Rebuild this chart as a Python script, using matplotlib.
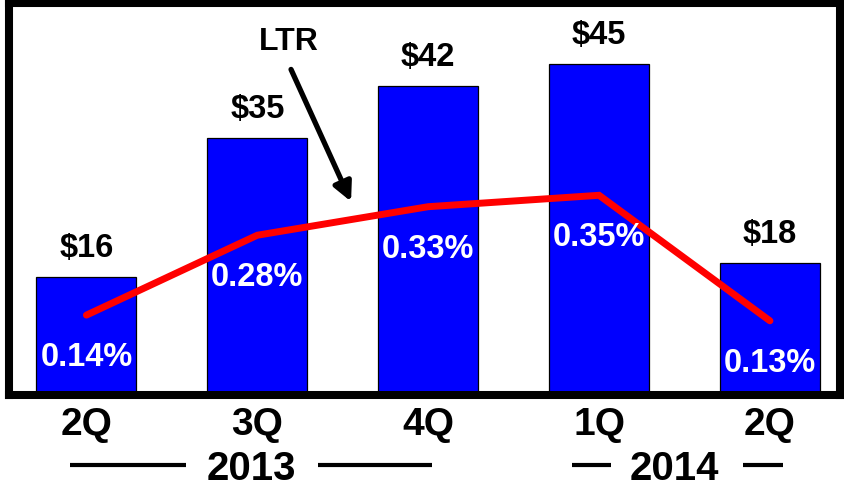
import numpy as np
import matplotlib
matplotlib.use("Agg")
import matplotlib.pyplot as plt

plt.rcParams["font.family"] = ["Liberation Sans", "DejaVu Sans"]
plt.rcParams["font.weight"] = "bold"

# ======================================================
# DATA
# ======================================================

quarters = ["2Q", "3Q", "4Q", "1Q", "2Q"]
losses = [16, 35, 42, 45, 18]            # $ bars
ltr = [0.14, 0.28, 0.33, 0.35, 0.13]     # % line
years = ["2013", "2014"]

x = np.arange(len(quarters))

# ======================================================
# FIGURE
# ======================================================

fig = plt.figure(figsize=(8.44, 4.89), dpi=100)
ax = fig.add_axes([9 / 844, 93 / 489, 831 / 844, 392 / 489])

ax.bar(x, losses, width=0.585, color="#0000ff",
       edgecolor="black", linewidth=0.9, zorder=2)

for xi, v in zip(x, losses):
    ax.annotate(f"${v}", (xi, v), xytext=(0, 15),
                textcoords="offset points", ha="center",
                va="baseline", fontsize=23.5, fontweight="bold")

ax.set_xlim(-0.453, 4.41)
ax.set_ylim(0, 53.3)
ax.set_yticks([])
ax.set_xticks(x)
ax.set_xticklabels(quarters, fontsize=28, fontweight="bold")
ax.tick_params(axis="x", length=0, pad=8)

for s in ax.spines.values():
    s.set_linewidth(5.8)
    s.set_color("black")

# LTR line on secondary scale
ax2 = ax.twinx()
ax2.plot(x, ltr, color="#ff0000", linewidth=5,
         solid_capstyle="round", solid_joinstyle="miter", zorder=3)
ax2.set_ylim(0, 0.687)
ax2.set_yticks([])
for s in ax2.spines.values():
    s.set_visible(False)

for xi, v in zip(x, ltr):
    ax2.annotate(f"{v:.2f}%", (xi, v), xytext=(0, -36),
                 textcoords="offset points", ha="center",
                 va="baseline", fontsize=23.5, fontweight="bold",
                 color="white", zorder=4)

# LTR callout
ax2.annotate("", xy=(0.413, 0.487), xytext=(0.338, 0.837),
             xycoords="axes fraction", textcoords="axes fraction",
             arrowprops=dict(arrowstyle="-|>", color="black",
                             lw=3.8, mutation_scale=28))
ax2.text(0.337, 0.903, "LTR", transform=ax2.transAxes,
         ha="center", va="center", fontsize=23, fontweight="bold")

# year labels under the quarters
trans = ax.get_xaxis_transform()
year_pos = [0.968, 3.44]
for xp, yr in zip(year_pos, years):
    ax.text(xp, -0.186, yr, transform=trans, ha="center", va="center",
            fontsize=29, fontweight="bold", clip_on=False)

year_lines = [(-0.097, 0.582), (1.354, 2.021), (2.84, 3.07), (3.84, 4.075)]
for x0, x1 in year_lines:
    ax.plot([x0, x1], [-0.178, -0.178], transform=trans, color="black",
            linewidth=3, clip_on=False, solid_capstyle="butt")

plt.savefig("out.png", dpi=100)
